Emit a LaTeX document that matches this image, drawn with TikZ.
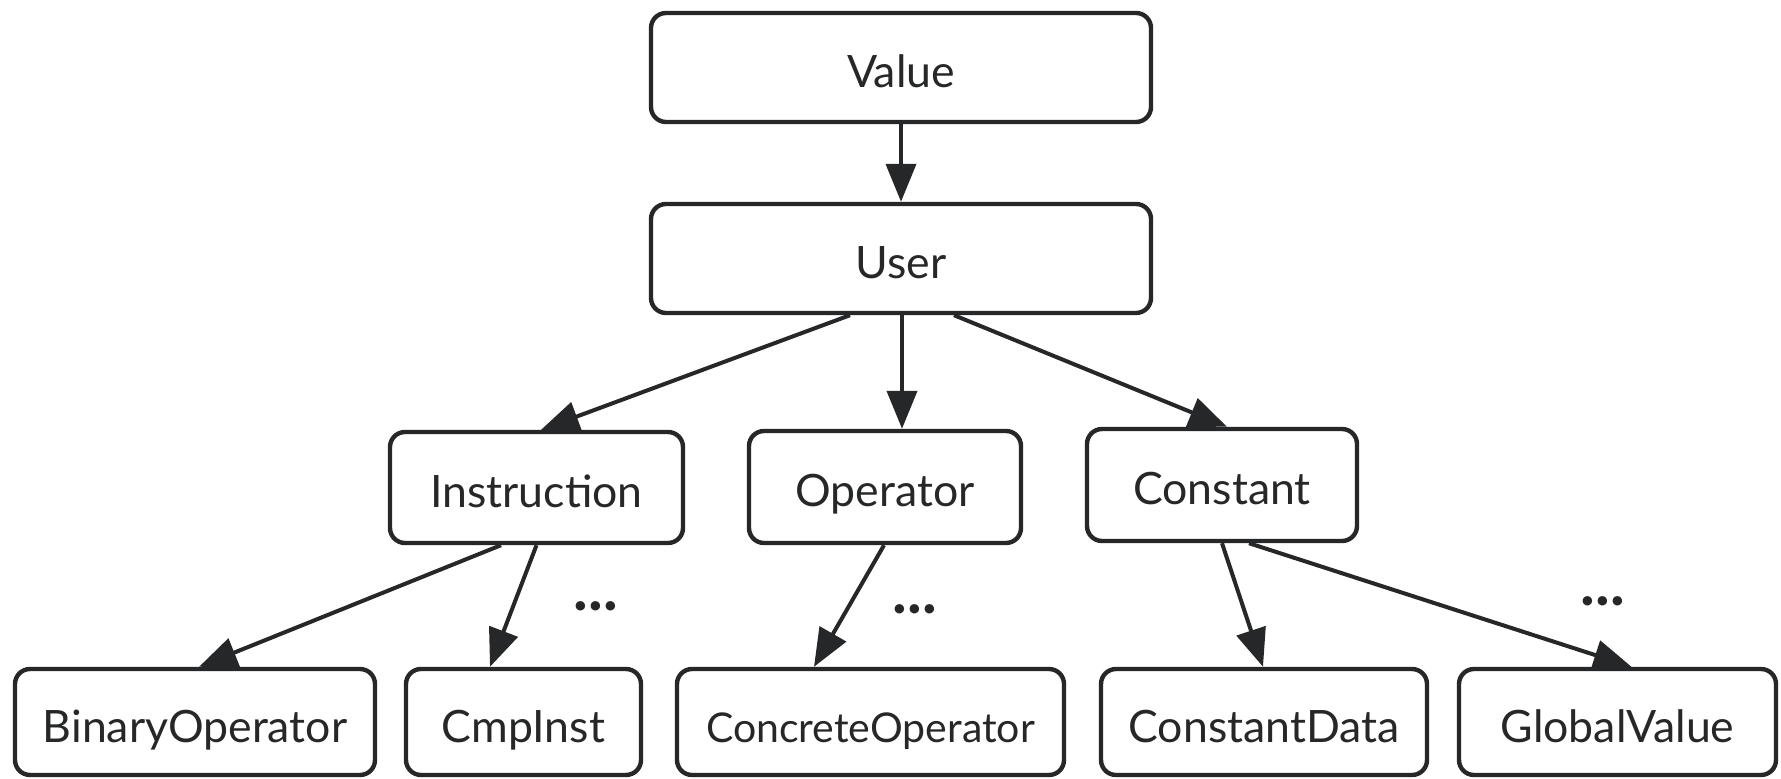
\documentclass[tikz,border=0pt]{standalone}
\usepackage{fontspec}
\setmainfont{Lato}
\usetikzlibrary{arrows.meta,calc}
\definecolor{ink}{HTML}{262728}
\begin{document}
\begin{tikzpicture}[x=0.5pt,y=-0.5pt,
  box/.style={draw=ink,line width=2.2pt,rounded corners=7.5pt,fill=white,
    text=ink,font=\fontsize{22.3pt}{26pt}\selectfont,inner sep=0pt,
    text height=24.5pt,text depth=4.5pt},
  small/.style={font=\fontsize{20.5pt}{24pt}\selectfont},
  link/.style={draw=ink,line width=2pt,-{Triangle[length=19pt,width=15pt]}},
  dots/.style={text=ink,font=\fontsize{31pt}{34pt}\selectfont\bfseries,inner sep=0pt}]
\useasboundingbox[fill=white] (0,0) rectangle (1781,779);
% top
\node[box,minimum width=250pt,minimum height=54.5pt] (value) at (901,67.5) {Value};
\node[box,minimum width=250pt,minimum height=54.5pt] (user) at (901,258.5) {User};
% middle
\node[box,minimum width=146.5pt,minimum height=55.5pt] (inst) at (536.5,487.5) {Instruction};
\node[box,minimum width=136pt,minimum height=56pt] (opr) at (885,487) {Operator};
\node[box,minimum width=135pt,minimum height=56pt] (const) at (1222,485) {Constant};
% bottom
\node[box,minimum width=180pt,minimum height=53pt] (binop) at (195,722) {BinaryOperator};
\node[box,minimum width=117.5pt,minimum height=53pt] (cmp) at (523.5,722) {CmpInst};
\node[box,small,minimum width=193.5pt,minimum height=53pt] (conc) at (870.5,722) {ConcreteOperator};
\node[box,minimum width=163pt,minimum height=53pt] (cdata) at (1264,722) {ConstantData};
\node[box,minimum width=158.5pt,minimum height=53pt] (gval) at (1617.5,722) {GlobalValue};
% dots
\node[dots] (d1) at (596,606) {...};
\node[dots] (d2) at (915,609) {...};
\node[dots] (d3) at (1603,601) {...};
% connectors
\draw[link] (value.south) -- (user.north);
\draw[link] ($(user.south)+(-51,0)$) -- ($(inst.north)+(4.5,0)$);
\draw[link] ($(user.south)+(1,0)$) -- ($(opr.north)+(17,0)$);
\draw[link] ($(user.south)+(53,0)$) -- ($(const.north)+(5,0)$);
\draw[link] ($(inst.south)+(-35.5,0)$) -- ($(binop.north)+(4,0)$);
\draw[link] ($(inst.south)+(0,0)$) -- ($(cmp.north)+(-33.5,0)$);
\draw[link] ($(opr.south)+(-1,0)$) -- ($(conc.north)+(-56.5,0)$);
\draw[link] ($(const.south)+(0,0)$) -- ($(cdata.north)+(-1,0)$);
\draw[link] ($(const.south)+(27,0)$) -- ($(gval.north)+(14,0)$);
\end{tikzpicture}
\end{document}
